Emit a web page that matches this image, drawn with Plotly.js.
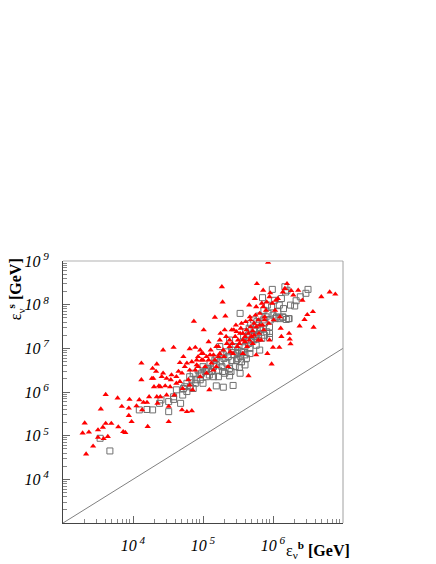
<!DOCTYPE html>
<html>
<head>
<meta charset="utf-8">
<script src="https://cdn.plot.ly/plotly-3.0.1.min.js"></script>
<style>html,body{margin:0;padding:0;background:#fff;}#chart{width:436px;height:564px;}</style>
</head>
<body>
<div id="chart"></div>
<script>
// log10 of energies (GeV)
const triLogEb = [3.28,3.31,3.37,3.33,3.43,3.50,3.50,3.54,3.57,3.58,3.61,3.61,3.64,3.69,3.78,3.79,3.84,3.86,3.89,3.94,3.94,3.95,3.98,4.05,4.09,4.12,4.12,4.13,4.15,4.20,4.21,4.23,4.27,4.28,4.30,4.33,4.34,4.35,4.37,4.39,4.41,4.43,4.43,4.46,4.48,4.51,4.51,4.53,4.55,4.58,4.59,4.62,4.65,4.67,4.70,4.71,4.72,4.74,4.77,4.79,4.81,4.81,4.84,4.85,4.87,4.89,4.91,4.93,4.96,4.98,5.00,5.01,5.03,5.05,5.08,5.09,5.10,5.12,5.15,5.17,5.19,5.19,5.22,5.24,5.25,5.27,5.28,5.29,5.30,5.31,5.32,5.34,5.36,5.38,5.41,5.43,5.46,5.47,5.49,5.50,5.53,5.55,5.57,5.57,5.60,5.62,5.63,5.65,5.66,5.67,5.68,5.69,5.71,5.73,5.74,5.76,5.76,5.77,5.79,5.80,5.81,5.83,5.84,5.85,5.86,5.87,5.88,5.90,5.91,5.92,5.93,5.94,5.95,5.95,5.96,5.98,5.99,6.00,6.01,6.03,6.04,6.07,6.09,6.10,6.11,6.12,6.14,6.17,6.20,6.23,6.24,6.25,6.26,6.29,6.36,6.38,6.42,6.45,6.49,6.57,6.58,6.69,6.81,6.89,4.96,5.00,5.05,5.11,5.15,5.17,5.22,5.24,5.33,5.38,5.39,5.42,5.44,5.48,5.52,5.54,5.57,5.60,5.61,5.65,5.66,5.68,5.71,5.73,5.75,5.76,5.79,5.81,5.86,5.88,4.77,4.84,4.89,4.93,4.70,4.62,4.54,4.67,4.81,4.91,4.98,5.08,4.29,4.34,4.48,4.39];
const triLogEs = [5.06,5.29,5.08,4.58,4.76,5.13,4.96,5.61,5.19,4.93,5.28,5.94,4.98,5.28,5.86,5.20,5.67,5.09,5.07,5.46,5.63,5.83,5.32,5.68,5.82,6.66,6.28,5.59,5.76,5.76,5.21,5.89,6.31,6.54,6.12,6.47,6.64,5.74,6.14,5.89,6.35,6.43,6.96,6.14,6.31,5.32,5.67,6.12,6.39,7.02,5.93,6.35,6.47,6.67,5.59,6.08,6.81,6.58,5.55,6.28,6.99,6.50,5.57,6.05,7.62,7.02,6.62,6.81,6.35,6.73,6.88,7.42,6.58,6.43,7.15,6.05,6.85,6.66,6.50,7.71,7.04,6.58,6.81,7.19,7.34,8.41,8.06,6.96,6.81,7.42,7.74,7.11,6.58,7.19,7.42,6.88,7.27,7.53,7.04,7.19,7.34,7.57,6.88,7.19,7.27,7.42,7.04,6.37,7.99,7.72,7.49,7.27,7.11,7.57,8.14,7.95,6.85,8.48,7.65,7.34,7.80,7.19,8.03,7.53,8.33,7.42,7.72,7.87,8.06,6.88,8.97,7.57,8.18,7.19,8.27,6.64,8.03,7.02,7.65,7.87,8.10,8.14,7.02,7.72,7.46,7.27,8.29,8.37,8.48,7.34,7.21,7.10,8.32,8.22,8.33,7.51,8.10,7.66,7.77,7.84,7.48,8.18,8.29,8.24,6.96,6.73,6.81,6.96,6.85,6.73,7.04,6.88,7.27,7.04,6.92,7.11,7.42,7.38,7.11,7.46,7.34,7.15,7.61,7.34,7.19,7.65,7.40,7.30,7.76,7.49,7.19,7.53,7.95,7.65,6.66,6.69,6.50,6.58,6.43,6.20,6.28,6.24,6.16,6.73,6.88,6.73,6.31,5.89,5.93,6.12];
const sqLogEb = [3.53,3.67,4.09,4.20,4.28,4.38,4.40,4.51,4.58,4.68,4.71,4.74,4.77,4.81,4.84,4.86,4.89,4.93,4.96,4.98,5.00,5.03,5.05,5.08,5.10,5.12,5.15,5.17,5.19,5.19,5.22,5.24,5.27,5.29,5.30,5.31,5.34,5.36,5.38,5.38,5.41,5.43,5.44,5.46,5.48,5.49,5.50,5.52,5.53,5.54,5.55,5.57,5.57,5.58,5.60,5.61,5.62,5.63,5.65,5.66,5.67,5.68,5.69,5.71,5.72,5.73,5.74,5.76,5.76,5.77,5.79,5.80,5.81,5.82,5.84,5.85,5.86,5.87,5.88,5.90,5.91,5.92,5.93,5.95,5.95,5.96,5.98,5.99,6.00,6.02,6.03,6.05,6.07,6.09,6.10,6.12,6.14,6.15,6.17,6.18,6.20,6.22,6.23,6.25,6.31,6.33,6.39,6.47,6.50,6.14,6.19,5.53,5.60,5.38,5.43,5.24,5.15,5.00,4.91,4.82,4.72,4.62,4.51,4.58,4.77,4.86,4.96,5.05,5.19,5.29,5.34,5.41,5.46,5.50,5.55,5.65,5.72,5.81,5.88,5.95,5.09,5.22,5.28,5.40,5.60,5.67,5.76,5.86];
const sqLogEs = [4.94,4.65,5.59,5.60,5.59,5.74,5.82,5.55,5.83,5.74,5.93,6.12,6.20,6.35,6.28,6.43,6.20,6.50,6.28,6.43,6.58,6.47,6.35,6.54,6.66,6.47,6.58,6.73,6.14,6.62,6.50,6.69,6.58,6.11,6.77,6.43,6.66,6.81,6.37,6.54,6.72,6.15,6.85,6.58,6.73,6.88,6.96,6.56,7.80,6.81,6.69,7.15,6.92,7.27,7.04,7.38,6.77,7.19,7.11,7.46,7.00,7.57,7.19,7.30,7.65,7.42,7.27,7.07,7.53,7.61,7.32,7.74,6.96,7.48,7.23,8.16,7.46,7.87,7.58,7.72,7.38,7.99,7.80,7.25,7.49,7.65,7.95,8.35,7.76,8.10,7.68,7.72,7.84,7.99,7.68,8.14,7.71,7.91,8.41,8.29,8.33,7.68,7.68,7.99,7.97,8.09,8.18,8.26,8.35,7.72,7.66,6.43,6.62,7.19,7.04,7.04,6.35,6.20,6.28,6.12,6.08,6.05,5.78,5.89,6.01,6.08,6.39,6.50,6.77,6.85,6.92,6.96,7.04,6.77,6.92,7.30,7.19,7.42,7.30,7.34,6.39,6.35,6.47,6.47,6.85,6.88,7.23,7.65];
// diagonal reference line e_s = e_b (GeV)
const diagE = [1e3, 1e7];
const xTickVals = [1e4, 1e5, 1e6];
const xTickText = ['10<sup> 4</sup>', '10<sup> 5</sup>', '10<sup> 6</sup>'];
const yTickVals = [1e4, 1e5, 1e6, 1e7, 1e8, 1e9];
const yTickText = ['10<sup> 4</sup>', '10<sup> 5</sup>', '10<sup> 6</sup>', '10<sup> 7</sup>', '10<sup> 8</sup>', '10<sup> 9</sup>'];

const pow10 = a => a.map(v => Math.pow(10, v));
function minorVals(d0, d1) {
  const out = [];
  for (let d = d0; d < d1; d++) for (let k = 2; k <= 9; k++) out.push(k * Math.pow(10, d));
  return out;
}

const serif = 'Liberation Serif, Times New Roman, serif';
const tickFont = {family: serif, size: 16, style: 'italic', color: '#000'};

const traces = [
  {x: diagE, y: diagE, mode: 'lines', line: {color: '#808080', width: 1}, hoverinfo: 'skip', showlegend: false},
  {x: pow10(sqLogEb), y: pow10(sqLogEs), mode: 'markers', showlegend: false,
   marker: {symbol: 'square-open', size: 6, color: '#707070', line: {width: 1, color: '#707070'}}},
  {x: pow10(triLogEb), y: pow10(triLogEs), mode: 'markers', showlegend: false,
   marker: {symbol: 'triangle-up', size: 5.5, color: '#ff0000', line: {width: 0}}}
];

const axisCommon = {
  type: 'log', showgrid: false, zeroline: false, showline: true, linecolor: '#444', linewidth: 1,
  ticks: 'inside', ticklen: 7, tickcolor: '#666', tickwidth: 1, tickmode: 'array',
  tickfont: tickFont
};

const layout = {
  width: 436, height: 564,
  margin: {l: 63, r: 93, t: 261, b: 41},
  paper_bgcolor: '#fff', plot_bgcolor: '#fff',
  xaxis: Object.assign({}, axisCommon, {range: [3, 7], tickvals: xTickVals, ticktext: xTickText,
    ticklabelstandoff: 8,
    minor: {ticks: 'inside', ticklen: 4, tickcolor: '#888', tickmode: 'array', tickvals: minorVals(3, 7)}}),
  yaxis: Object.assign({}, axisCommon, {range: [3, 9], tickvals: yTickVals, ticktext: yTickText,
    ticklabelstandoff: 10,
    minor: {ticks: 'inside', ticklen: 4, tickcolor: '#888', tickmode: 'array', tickvals: minorVals(3, 9)}}),
  shapes: [
    {type: 'line', xref: 'paper', yref: 'paper', x0: 0, x1: 1, y0: 1, y1: 1, line: {color: '#d8d8d8', width: 2}},
    {type: 'line', xref: 'paper', yref: 'paper', x0: 1, x1: 1, y0: 0, y1: 1, line: {color: '#a0a0a0', width: 1}}
  ],
  annotations: [
    {xref: 'paper', yref: 'paper', x: 0.79, y: -0.055, xanchor: 'left', yanchor: 'top', showarrow: false,
     text: 'ε<sub>ν</sub><sup><b>b</b></sup> <b>[GeV]</b>', font: {family: serif, size: 16, color: '#000'}},
    {xref: 'paper', yref: 'paper', x: -0.17, y: 1.02, xanchor: 'center', yanchor: 'top', showarrow: false,
     textangle: -90, text: 'ε<sub>ν</sub><sup><b>s</b></sup> <b>[GeV]</b>', font: {family: serif, size: 16, color: '#000'}}
  ]
};

Plotly.newPlot('chart', traces, layout, {displayModeBar: false, staticPlot: true});
</script>
</body>
</html>
